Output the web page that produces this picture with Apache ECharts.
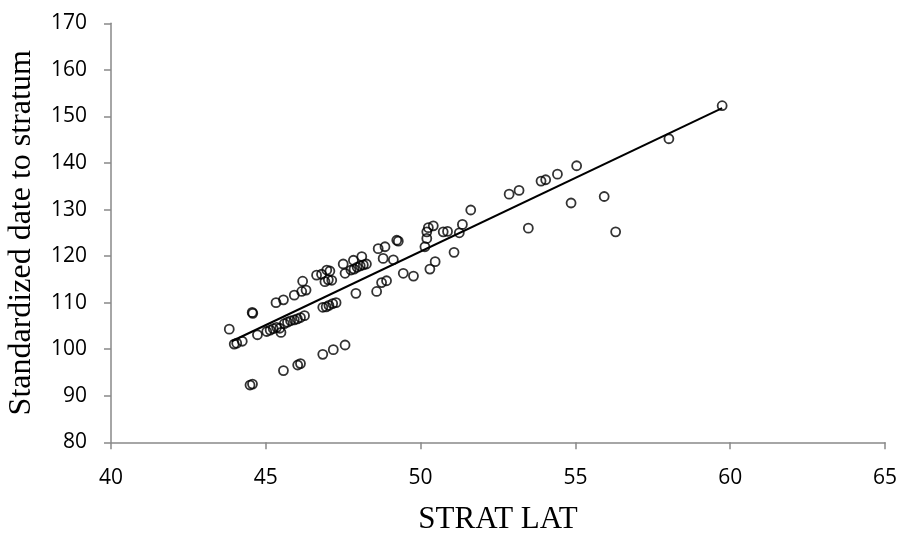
<!DOCTYPE html>
<html>
<head>
<meta charset="utf-8">
<script src="https://cdn.jsdelivr.net/npm/echarts@6/dist/echarts.min.js"></script>
<style>html,body{margin:0;padding:0;background:#fff}#c{width:901px;height:533px}</style>
</head>
<body>
<div id="c"></div>
<script>
// STRAT LAT values
const lat = [
  44.49,44.57,45.57,46.03,46.12,46.84,47.18,47.56,
  43.82,43.98,44.06,44.24,44.73,45.03,45.14,45.24,45.35,45.45,45.49,45.60,45.70,45.80,45.92,46.02,46.12,46.25,
  44.56,44.58,45.33,45.57,45.92,46.16,46.30,46.19,
  46.64,46.80,46.84,46.95,47.04,47.16,47.27,
  46.97,47.07,46.91,47.02,47.13,
  47.50,47.56,47.91,47.75,47.85,47.95,48.05,48.15,48.25,47.83,48.10,
  48.58,48.74,48.90,48.63,48.85,48.79,49.12,49.23,49.28,
  49.44,49.77,50.30,50.47,
  50.14,50.20,50.20,50.25,50.41,50.73,50.87,51.08,51.25,51.35,51.62,
  52.86,53.18,53.48,53.89,54.04,54.42,55.04,54.86,55.93,56.30,58.02,59.74
];
// Standardized date to stratum values
const date = [
  92.3,92.5,95.4,96.6,96.9,98.9,99.9,100.9,
  104.3,101.1,101.3,101.7,103.1,103.8,104.1,104.4,104.7,104.5,103.6,105.5,105.8,106.1,106.3,106.5,106.8,107.2,
  107.9,107.7,110.0,110.6,111.6,112.4,112.7,114.6,
  115.9,116.1,109.0,109.1,109.4,109.8,110.0,
  117.0,116.8,114.5,114.9,114.8,
  118.3,116.3,112.0,117.0,117.2,117.6,117.9,118.1,118.3,119.1,119.9,
  112.4,114.3,114.7,121.6,122.0,119.5,119.2,123.4,123.2,
  116.3,115.7,117.2,118.8,
  122.0,123.8,125.2,126.1,126.5,125.2,125.3,120.8,125.0,126.8,129.9,
  133.3,134.1,126.0,136.1,136.4,137.6,139.4,131.4,132.8,125.2,145.2,152.3
];
// trend line end points
const trendLat = [43.9, 59.74];
const trendDate = [101.7, 151.8];

const xTicks = [40, 65, 5];
const yTicks = [80, 170, 10];

const chart = echarts.init(document.getElementById('c'));
const axisCommon = {
  axisLine: {show: true, lineStyle: {color: '#898989', width: 1.5}},
  axisTick: {show: true, inside: false, length: 7, lineStyle: {color: '#898989', width: 1.5}},
  splitLine: {show: false},
  axisLabel: {color: '#000', fontFamily: 'Open Sans', fontSize: 21}
};
chart.setOption({
  animation: false,
  backgroundColor: '#fff',
  grid: {left: 111, right: 16, top: 23.3, bottom: 90.7, containLabel: false, outerBoundsMode: 'none'},
  xAxis: Object.assign({}, axisCommon, {
    type: 'value', min: xTicks[0], max: xTicks[1], interval: xTicks[2],
    name: 'STRAT LAT', nameLocation: 'middle', nameGap: 62,
    nameTextStyle: {color: '#000', fontFamily: 'Liberation Serif', fontSize: 31},
    axisLabel: Object.assign({}, axisCommon.axisLabel, {margin: 25})
  }),
  yAxis: Object.assign({}, axisCommon, {
    type: 'value', min: yTicks[0], max: yTicks[1], interval: yTicks[2],
    name: 'Standardized date to stratum', nameLocation: 'middle', nameGap: 73,
    nameTextStyle: {color: '#000', fontFamily: 'Liberation Serif', fontSize: 32},
    axisLabel: Object.assign({}, axisCommon.axisLabel, {margin: 24})
  }),
  series: [
    {
      type: 'scatter',
      data: lat.map((x, i) => [x, date[i]]),
      symbol: 'circle', symbolSize: 9,
      itemStyle: {color: 'rgba(0,0,0,0)', borderColor: '#000', borderWidth: 1.8},
      z: 3
    },
    {
      type: 'line',
      data: trendLat.map((x, i) => [x, trendDate[i]]),
      showSymbol: false, symbol: 'none',
      lineStyle: {color: '#000', width: 2},
      z: 2
    }
  ]
});
</script>
</body>
</html>
